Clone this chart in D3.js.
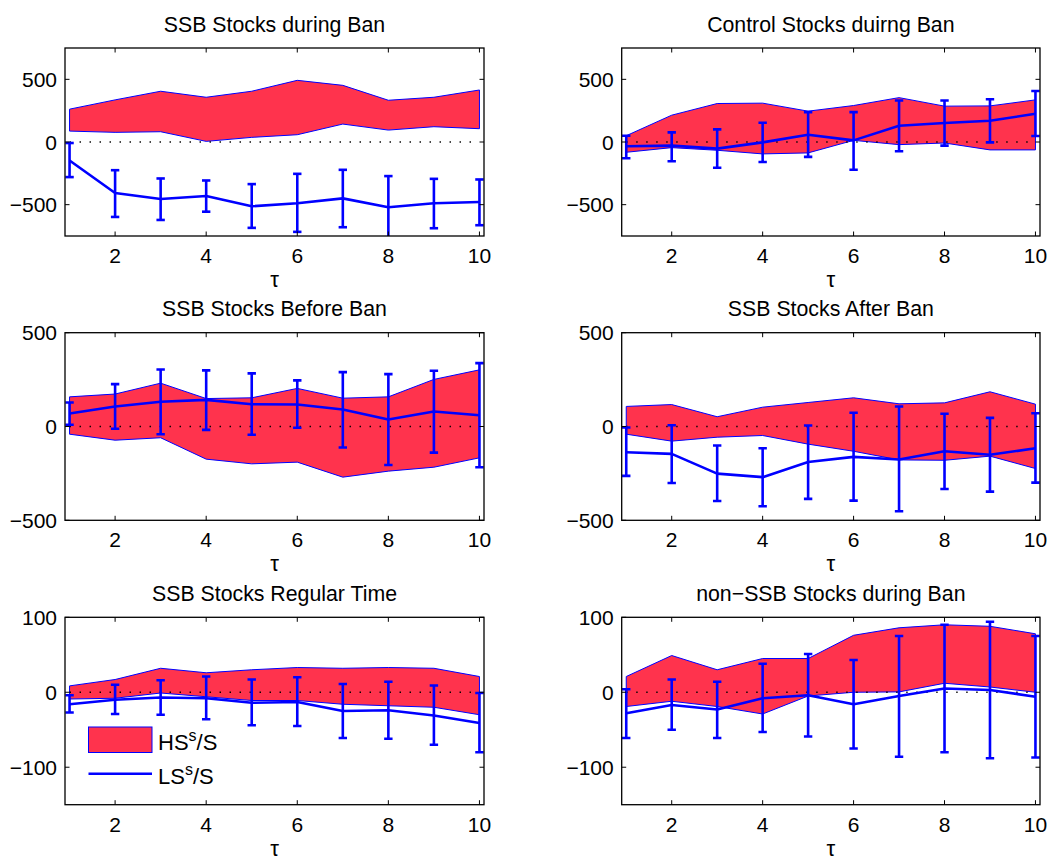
<!DOCTYPE html>
<html><head><meta charset="utf-8">
<script src="https://cdn.jsdelivr.net/npm/d3@7/dist/d3.min.js"></script>
<style>body{margin:0;background:#fff}svg{display:block}text{font-family:"Liberation Sans",Arial,sans-serif;fill:#000}</style>
</head><body><svg id="c" width="1056" height="861"></svg>
<script>
const taus = [1,2,3,4,5,6,7,8,9,10];
const xTicks = [2,4,6,8,10];
const titles = ["SSB Stocks during Ban","Control Stocks duirng Ban","SSB Stocks Before Ban","SSB Stocks After Ban","SSB Stocks Regular Time","non\u2212SSB Stocks during Ban"];
const yTicksBig = [-500,0,500];
const yTicksSmall = [-100,0,100];

// Panel 1: SSB Stocks during Ban
const p1Upper = [262,336,405,357,405,492,452,333,357,415];
const p1Lower = [87,77,82,5,37,58,143,95,122,106];
const p1Mean  = [-148,-407,-455,-431,-513,-489,-450,-521,-489,-479];
const p1ErrHi = [-8,-225,-291,-307,-336,-254,-222,-272,-294,-299];
const p1ErrLo = [-280,-598,-622,-556,-685,-717,-680,-775,-688,-664];
// Panel 2: Control Stocks during Ban
const p2Upper = [50,214,307,310,246,291,354,286,288,336];
const p2Lower = [-82,-45,-66,-95,-87,13,-21,-8,-63,-63];
const p2Mean  = [-34,-29,-53,-3,58,13,130,151,169,225];
const p2ErrHi = [50,77,101,153,238,238,331,331,341,407];
const p2ErrLo = [-130,-153,-206,-159,-119,-222,-74,-29,-3,48];
// Panel 3: SSB Stocks Before Ban
const p3Upper = [158,173,231,149,153,203,151,158,251,302];
const p3Lower = [-41,-73,-60,-174,-199,-190,-270,-238,-217,-167];
const p3Mean  = [69,107,132,142,119,117,91,37,80,60];
const p3ErrHi = [128,226,304,299,283,246,290,279,297,338];
const p3ErrLo = [9,-12,-41,-18,-44,-7,-112,-205,-139,-217];
// Panel 4: SSB Stocks After Ban
const p4Upper = [107,117,52,103,128,153,121,126,185,119];
const p4Lower = [-41,-78,-57,-48,-94,-132,-178,-180,-158,-224];
const p4Mean  = [-137,-146,-251,-270,-189,-162,-176,-132,-151,-116];
const p4ErrHi = [-5,7,-101,-116,5,73,107,68,46,71];
const p4ErrLo = [-263,-301,-397,-425,-386,-395,-452,-333,-347,-299];
// Panel 5: SSB Stocks Regular Time
const p5Upper = [8.5,17,32,26,30,33,32,33,32,21];
const p5Lower = [-9,-8,-1,-6,-11,-11,-16,-18,-20,-30];
const p5Mean  = [-16,-10,-7,-8,-14,-13,-25,-24,-31,-41];
const p5ErrHi = [-4,10,16,21,17,20,11,14,9,-1];
const p5ErrLo = [-27,-29,-30,-36,-44,-45,-61,-62,-70,-80];
// Panel 6: non-SSB Stocks during Ban
const p6Upper = [21,49,30,45,45,76,86,90,88,78];
const p6Lower = [-19,-12,-19,-29,-5,0,0.5,12,7,0];
const p6Mean  = [-28,-17,-23,-8,-4,-16,-5,5,3,-6];
const p6ErrHi = [4,17,14,38,51,43,75,90,94,75];
const p6ErrLo = [-61,-50,-61,-53,-59,-75,-86,-80,-88,-87];

const legendLabels = ["HS","LS"];

const panels = [
  {upper:p1Upper,lower:p1Lower,mean:p1Mean,hi:p1ErrHi,lo:p1ErrLo,dom:[-750,750],ticks:yTicksBig},
  {upper:p2Upper,lower:p2Lower,mean:p2Mean,hi:p2ErrHi,lo:p2ErrLo,dom:[-750,750],ticks:yTicksBig},
  {upper:p3Upper,lower:p3Lower,mean:p3Mean,hi:p3ErrHi,lo:p3ErrLo,dom:[-500,500],ticks:yTicksBig},
  {upper:p4Upper,lower:p4Lower,mean:p4Mean,hi:p4ErrHi,lo:p4ErrLo,dom:[-500,500],ticks:yTicksBig},
  {upper:p5Upper,lower:p5Lower,mean:p5Mean,hi:p5ErrHi,lo:p5ErrLo,dom:[-150,100],ticks:yTicksSmall},
  {upper:p6Upper,lower:p6Lower,mean:p6Mean,hi:p6ErrHi,lo:p6ErrLo,dom:[-150,100],ticks:yTicksSmall}
];

const cols = [[65,484],[621.7,1040]];
const rows = [[48,236],[332.7,520.3],[617.3,804.7]];
const RED = "rgb(255,51,77)", BLUE = "rgb(0,0,255)";
const fmt = v => v < 0 ? "\u2212" + Math.abs(v) : String(v);

const svg = d3.select("#c");
panels.forEach((p, i) => {
  const [x0, x1] = cols[i % 2], [y0, y1] = rows[Math.floor(i / 2)];
  const x = d3.scaleLinear().domain([0.9, 10.1]).range([x0, x1]);
  const y = d3.scaleLinear().domain(p.dom).range([y1, y0]);
  const g = svg.append("g");
  const cid = "clip" + i;
  svg.append("clipPath").attr("id", cid).append("rect")
    .attr("x", x0).attr("y", y0).attr("width", x1 - x0).attr("height", y1 - y0);
  const pg = g.append("g").attr("clip-path", `url(#${cid})`);

  const area = d3.area().x((d, j) => x(taus[j])).y0((d, j) => y(p.lower[j])).y1((d, j) => y(p.upper[j]));
  pg.append("path").datum(p.upper).attr("d", area)
    .attr("fill", RED).attr("stroke", BLUE).attr("stroke-width", 1).attr("stroke-linejoin", "miter");

  pg.append("line").attr("x1", x(1)).attr("x2", x(10)).attr("y1", y(0)).attr("y2", y(0))
    .attr("stroke", "#000").attr("stroke-width", 1.4).attr("stroke-dasharray", "1.4,8.6");

  const line = d3.line().x((d, j) => x(taus[j])).y(d => y(d));
  pg.append("path").datum(p.mean).attr("d", line).attr("fill", "none")
    .attr("stroke", BLUE).attr("stroke-width", 2.6).attr("stroke-linejoin", "round");

  const eb = pg.append("g").attr("stroke", BLUE).attr("stroke-width", 2.6);
  taus.forEach((t, j) => {
    const cx = x(t), cap = 4.2;
    eb.append("line").attr("x1", cx).attr("x2", cx).attr("y1", y(p.hi[j])).attr("y2", y(p.lo[j]));
    eb.append("line").attr("x1", cx - cap).attr("x2", cx + cap).attr("y1", y(p.hi[j])).attr("y2", y(p.hi[j]));
    eb.append("line").attr("x1", cx - cap).attr("x2", cx + cap).attr("y1", y(p.lo[j])).attr("y2", y(p.lo[j]));
  });

  // axes box and inward ticks
  const tl = 4.5;
  const ax = g.append("g").attr("stroke", "#000").attr("stroke-width", 1);
  xTicks.forEach(t => {
    ax.append("line").attr("x1", x(t)).attr("x2", x(t)).attr("y1", y1).attr("y2", y1 - tl);
    ax.append("line").attr("x1", x(t)).attr("x2", x(t)).attr("y1", y0).attr("y2", y0 + tl);
  });
  p.ticks.forEach(t => {
    ax.append("line").attr("x1", x0).attr("x2", x0 + tl).attr("y1", y(t)).attr("y2", y(t));
    ax.append("line").attr("x1", x1).attr("x2", x1 - tl).attr("y1", y(t)).attr("y2", y(t));
  });
  g.append("rect").attr("x", x0).attr("y", y0).attr("width", x1 - x0).attr("height", y1 - y0)
    .attr("fill", "none").attr("stroke", "#000").attr("stroke-width", 1.3);

  xTicks.forEach(t => {
    g.append("text").attr("x", x(t)).attr("y", y1 + 27).attr("text-anchor", "middle")
      .attr("font-size", 21).text(t);
  });
  p.ticks.forEach(t => {
    g.append("text").attr("x", x0 - 8).attr("y", y(t)).attr("dy", "0.36em").attr("text-anchor", "end")
      .attr("font-size", 21).text(fmt(t));
  });
  g.append("text").attr("x", (x0 + x1) / 2).attr("y", y1 + 51).attr("text-anchor", "middle")
    .attr("font-size", 22).text("\u03c4");
  g.append("text").attr("x", (x0 + x1) / 2).attr("y", y0 - 16.5).attr("text-anchor", "middle")
    .attr("font-size", 21.3).text(titles[i]);
});

// legend in panel 5
const lg = svg.append("g");
lg.append("rect").attr("x", 88.5).attr("y", 727).attr("width", 63.5).attr("height", 25.5)
  .attr("fill", RED).attr("stroke", BLUE).attr("stroke-width", 1);
lg.append("line").attr("x1", 88.5).attr("x2", 152).attr("y1", 773.7).attr("y2", 773.7)
  .attr("stroke", BLUE).attr("stroke-width", 2.6);
[[750, legendLabels[0]], [784, legendLabels[1]]].forEach(([yy, lab]) => {
  const t = lg.append("text").attr("x", 158).attr("y", yy).attr("font-size", 22);
  t.append("tspan").text(lab);
  t.append("tspan").attr("font-size", 16).attr("dy", -9).text("s");
  t.append("tspan").attr("dy", 9).text("/S");
});
</script></body></html>
